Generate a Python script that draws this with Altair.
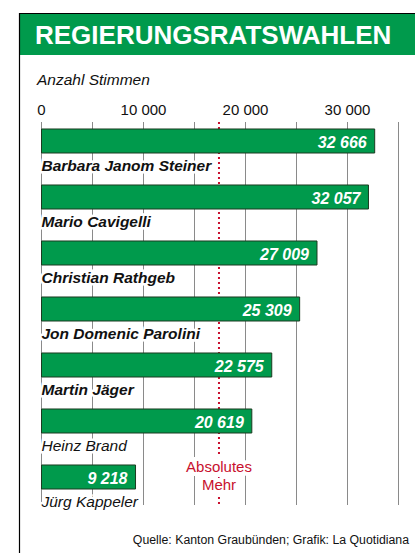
import altair as alt
import pandas as pd

# ---- data ----
names = ["Barbara Janom Steiner", "Mario Cavigelli", "Christian Rathgeb",
         "Jon Domenic Parolini", "Martin Jäger", "Heinz Brand", "Jürg Kappeler"]
votes = [32666, 32057, 27009, 25309, 22575, 20619, 9218]
elected = [True, True, True, True, True, False, False]
vote_labels = ["32 666", "32 057", "27 009", "25 309", "22 575", "20 619", "9 218"]
tick_values = [0, 10000, 20000, 30000]
tick_labels = ["0", "10 000", "20 000", "30 000"]
grid_values = [0, 5000, 10000, 15000, 20000, 25000, 30000, 35000]
absolute_majority = 17400

title = "REGIERUNGSRATSWAHLEN"
subtitle = "Anzahl Stimmen"
source = "Quelle: Kanton Graubünden; Grafik: La Quotidiana"

GREEN = "#009A4C"
RED = "#C8102E"
FONT = "Liberation Sans"
W, H = 415, 553

df = pd.DataFrame({"name": names, "votes": votes, "elected": elected, "label": vote_labels})
ticks = pd.DataFrame({"v": tick_values, "t": tick_labels})
grid = pd.DataFrame({"v": grid_values})
maj = pd.DataFrame({"v": [absolute_majority], "t": [["Absolutes", "Mehr"]]})
one = alt.Data(values=[{}])

xscale = alt.Scale(domain=[0, 35000], range=[41.5, 398.5], nice=False, zero=True)
yscale = alt.Scale(domain=names, range=[113, 505], paddingInner=0.5714, paddingOuter=0.2857)
X = lambda f: alt.X(f, type="quantitative", scale=xscale, axis=None)
Y = alt.Y("name:N", scale=yscale, axis=None, sort=names)

header = alt.Chart(one).mark_rect(color=GREEN).encode(
    x=alt.value(20), x2=alt.value(W), y=alt.value(14), y2=alt.value(55))
border_v = alt.Chart(one).mark_rule(color="black", strokeWidth=1.2).encode(
    x=alt.value(19.5), y=alt.value(13), y2=alt.value(H))
border_h = alt.Chart(one).mark_rule(color="black", strokeWidth=1.2).encode(
    x=alt.value(19), x2=alt.value(W), y=alt.value(13.5))
title_t = alt.Chart(one).mark_text(text=title, font=FONT, fontSize=26, fontWeight="bold",
                                   color="white", align="left", baseline="alphabetic").encode(
    x=alt.value(35), y=alt.value(43.5))
sub_t = alt.Chart(one).mark_text(text=subtitle, font=FONT, fontSize=15.5, fontStyle="italic",
                                 color="#111", align="left", baseline="alphabetic").encode(
    x=alt.value(37), y=alt.value(85))
tick_t = alt.Chart(ticks).mark_text(font=FONT, fontSize=15, color="#111",
                                    align="center", baseline="alphabetic").encode(
    x=X("v"), y=alt.value(115), text="t:N")
grid_r = alt.Chart(grid).mark_rule(color="#8a8a8a", strokeWidth=1).encode(
    x=X("v"), y=alt.value(122), y2=alt.value(505))
maj_r = alt.Chart(maj).mark_rule(color=RED, strokeWidth=2, strokeDash=[2, 3]).encode(
    x=X("v"), y=alt.value(122), y2=alt.value(507))
maj_halo = alt.Chart(maj).mark_text(font=FONT, fontSize=15, color="white", stroke="white",
                                    strokeWidth=8, align="center", baseline="alphabetic",
                                    lineHeight=18).encode(
    x=X("v"), y=alt.value(472), text="t")
maj_t = alt.Chart(maj).mark_text(font=FONT, fontSize=15, color=RED, align="center",
                                 baseline="alphabetic", lineHeight=18).encode(
    x=X("v"), y=alt.value(472), text="t")

def name_layer(is_elected, halo):
    kw = dict(font=FONT, fontSize=15.5, fontStyle="italic",
              fontWeight="bold" if is_elected else "normal",
              align="left", baseline="alphabetic", dy=29.5)
    if halo:
        kw.update(color="white", stroke="white", strokeWidth=5)
    else:
        kw.update(color="#111")
    return alt.Chart(df).transform_filter(
        alt.datum.elected if is_elected else ~alt.datum.elected
    ).mark_text(**kw).encode(x=alt.X(datum=0, scale=xscale, axis=None), y=Y, text="name:N")

bars = alt.Chart(df).mark_bar(color=GREEN, stroke="#1b3b20", strokeWidth=1).encode(
    x=X("votes"), y=Y)
val_t = alt.Chart(df).mark_text(font=FONT, fontSize=16, fontStyle="italic", fontWeight="bold",
                                color="white", align="right", baseline="alphabetic",
                                dx=-8, dy=7).encode(x=X("votes"), y=Y, text="label:N")
src_t = alt.Chart(one).mark_text(text=source, font=FONT, fontSize=12.3, color="#111",
                                 align="right", baseline="alphabetic").encode(
    x=alt.value(409), y=alt.value(544))

chart = alt.layer(
    header, border_v, border_h, title_t, sub_t, tick_t,
    grid_r, maj_r,
    name_layer(True, True), name_layer(False, True), maj_halo,
    bars, val_t,
    name_layer(True, False), name_layer(False, False), maj_t,
    src_t,
).properties(
    width=W, height=H, background="white",
    autosize=alt.AutoSizeParams(type="none"), padding=0,
).configure_view(stroke=None)

chart.save("out.html", embed_options={"renderer": "svg", "actions": False})
